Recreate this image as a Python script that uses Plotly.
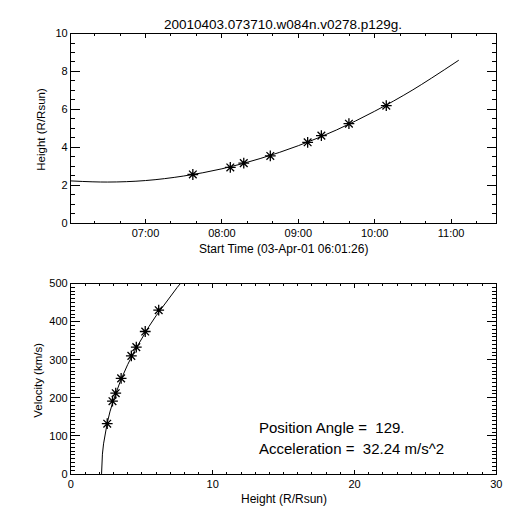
import plotly.graph_objects as go

# ---- data ----
obs_times = ["2001-04-03 07:37:10", "2001-04-03 08:06:36", "2001-04-03 08:17:10",
             "2001-04-03 08:38:00", "2001-04-03 09:07:20", "2001-04-03 09:18:07",
             "2001-04-03 09:39:45", "2001-04-03 10:09:05"]
obs_heights = [2.56, 2.93, 3.16, 3.54, 4.26, 4.61, 5.24, 6.19]
obs_velocity = [132, 191, 212, 251, 310, 333, 374, 430]

fit_times = ["2001-04-03 06:01:26", "2001-04-03 06:30:00", "2001-04-03 07:00:00",
             "2001-04-03 07:30:00", "2001-04-03 08:00:00", "2001-04-03 08:30:00",
             "2001-04-03 09:00:00", "2001-04-03 09:30:00", "2001-04-03 10:00:00",
             "2001-04-03 10:30:00", "2001-04-03 11:06:00"]
fit_heights = [2.22, 2.16, 2.24, 2.48, 2.86, 3.40, 4.08, 4.91, 5.90, 7.03, 8.59]

vfit_heights = [2.16, 2.165, 2.18, 2.22, 2.30, 2.40, 2.55, 2.75, 3.0, 3.5, 4.0,
                4.5, 5.0, 5.5, 6.0, 6.5, 7.0, 7.5, 7.72]
vfit_velocity = [0, 15, 30, 52, 79, 104, 132, 163, 194, 245, 287,
                 324, 357, 387, 415, 441, 466, 490, 500]

title_text = "20010403.073710.w084n.v0278.p129g."
pa_text = "Position Angle =\u00a0\u00a0129."
acc_text = "Acceleration =\u00a0\u00a032.24 m/s^2"

FONT = "Liberation Sans, Arial, sans-serif"
W = H = 512

def px(x):
    return x / W

def py(y):
    return 1 - y / H

marker_style = dict(symbol="asterisk-open", size=9, color="black",
                    line=dict(color="black", width=1.3))

fig = go.Figure()
fig.add_trace(go.Scatter(x=fit_times, y=fit_heights, mode="lines",
                         line=dict(color="black", width=1, shape="spline"),
                         xaxis="x", yaxis="y", showlegend=False))
fig.add_trace(go.Scatter(x=obs_times, y=obs_heights, mode="markers",
                         marker=marker_style,
                         xaxis="x", yaxis="y", showlegend=False))
fig.add_trace(go.Scatter(x=vfit_heights, y=vfit_velocity, mode="lines",
                         line=dict(color="black", width=1),
                         xaxis="x2", yaxis="y2", showlegend=False))
fig.add_trace(go.Scatter(x=obs_heights, y=obs_velocity, mode="markers",
                         marker=marker_style,
                         xaxis="x2", yaxis="y2", showlegend=False))

common = dict(showline=True, linecolor="black", linewidth=1, mirror="ticks",
              ticks="inside", tickcolor="black", tickwidth=1, showgrid=False,
              zeroline=False, tickfont=dict(family=FONT, size=11, color="black"))

left, right = px(61), px(494)
fig.update_layout(
    width=W, height=H,
    margin=dict(l=0, r=0, t=0, b=0),
    paper_bgcolor="white", plot_bgcolor="white",
    font=dict(family=FONT, color="black"),
    xaxis=dict(domain=[left, right], anchor="y", type="date",
               range=["2001-04-03 06:01:26", "2001-04-03 11:35:30"],
               tick0="2001-04-03 07:00:00", dtick=3600000, tickformat="%H:%M",
               ticklen=4,
               minor=dict(ticks="inside", dtick=1200000, tick0="2001-04-03 07:00:00",
                          ticklen=2, tickcolor="black", showgrid=False),
               **common),
    yaxis=dict(domain=[py(214), py(20)], anchor="x", range=[0, 10],
               dtick=2, ticklen=9,
               minor=dict(ticks="inside", dtick=0.5, ticklen=4, tickcolor="black",
                          showgrid=False),
               **common),
    xaxis2=dict(domain=[left, right], anchor="y2", range=[0, 30],
                dtick=10, ticklen=4,
                minor=dict(ticks="inside", dtick=1, ticklen=2, tickcolor="black",
                           showgrid=False),
                **common),
    yaxis2=dict(domain=[py(471), py(276)], anchor="x2", range=[0, 500],
                dtick=100, ticklen=9,
                minor=dict(ticks="inside", dtick=10, ticklen=4, tickcolor="black",
                           showgrid=False),
                **common),
)

def ann(text, x, y, size, xanchor="center", angle=0):
    fig.add_annotation(text=text, x=px(x), y=py(y), xref="paper", yref="paper",
                       showarrow=False, xanchor=xanchor, yanchor="middle",
                       textangle=angle, borderpad=0,
                       font=dict(family=FONT, size=size, color="black"))

ann(title_text, 277, 11, 13.5)
ann("Start Time (03-Apr-01 06:01:26)", 277, 241, 12)
ann("Height (R/Rsun)", 31, 118, 11.5, angle=-90)
ann("Height (R/Rsun)", 278, 497, 12)
ann("Velocity (km/s)", 28, 375, 11.5, angle=-90)
ann(pa_text, 251, 423, 15, xanchor="left")
ann(acc_text, 251, 445, 15, xanchor="left")

fig.write_html("out.html")
